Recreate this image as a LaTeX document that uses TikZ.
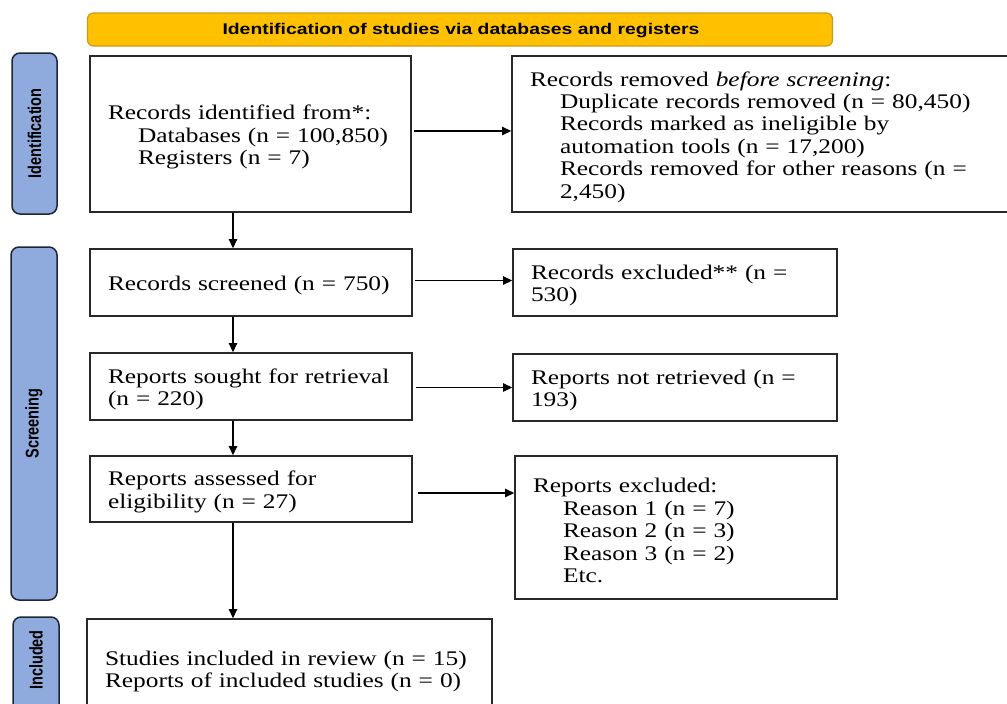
\documentclass[tikz,border=0pt]{standalone}
\usepackage{fontspec}
\setmainfont{Liberation Serif}[FakeStretch=1.22]
\newfontfamily\hdrfont{Liberation Sans}[FakeStretch=1.25]
\newfontfamily\sidefont{Liberation Sans}
\usetikzlibrary{arrows.meta,calc}
\definecolor{hdrfill}{RGB}{255,192,0}
\definecolor{hdrline}{RGB}{205,155,25}
\definecolor{sidefill}{RGB}{143,170,220}
\definecolor{sideline}{RGB}{30,38,52}
\definecolor{boxline}{RGB}{40,40,40}
\newcommand{\ind}{\hspace*{30pt}}
\newcommand{\tp}{\rule{0pt}{20.5pt}}
\begin{document}
\begin{tikzpicture}[x=1pt,y=-1pt,
  flowbox/.style={draw=boxline, line width=1.8pt, fill=white, align=left,
    inner xsep=18pt, inner ysep=0pt, font=\fontsize{20.8pt}{22.4pt}\selectfont},
  sidebox/.style={draw=sideline, line width=1.5pt, fill=sidefill, rounded corners=8pt,
    inner sep=0pt},
  sidelabel/.style={rotate=90, font=\sidefont\bfseries\fontsize{14.5pt}{16pt}\selectfont},
  arr/.style={line width=1.2pt, draw=black, -{Triangle[length=9pt,width=8.5pt]}}
]
\useasboundingbox[fill=white] (0,0) rectangle (1007,704);

% header
\node[draw=hdrline, line width=1.2pt, fill=hdrfill, rounded corners=6pt,
  minimum width=745pt, minimum height=33pt, inner sep=0pt] (hdr) at (460,29.5) {};
\node[font=\hdrfont\bfseries\fontsize{15.5pt}{17pt}\selectfont, inner sep=0pt]
  (hdrt) at (461,31) {Identification of studies via databases and registers};

% side labels
\node[sidebox, minimum width=45pt, minimum height=161pt] (s1) at (34.5,133.5) {};
\node[sidelabel] (s1t) at (s1.center) {\scalebox{1}[1.27]{Identification}};
\node[sidebox, minimum width=46pt, minimum height=353pt] (s2) at (34,423.5) {};
\node[sidelabel] (s2t) at (s2.center) {\scalebox{1}[1.27]{Screening}};
\node[sidebox, minimum width=46pt, minimum height=140pt] (s3) at (36,687) {};
\node[sidelabel] (s3t) at (36,660) {\scalebox{1}[1.27]{Included}};

% boxes
\node[flowbox, text width=285pt, minimum height=156pt] (B1) at (250.5,134)
  {\tp Records identified from*:\\ \ind Databases (n = 100,850)\\ \ind Registers (n = 7)};
\node[flowbox, text width=462pt, minimum height=156pt] (B2) at (761,134)
  {\tp Records removed \textit{before screening}:\\
   \ind Duplicate records removed (n = 80,450)\\
   \ind Records marked as ineligible by\\
   \ind automation tools (n = 17,200)\\
   \ind Records removed for other reasons (n =\\
   \ind 2,450)};
\node[flowbox, text width=286pt, minimum height=67pt] (B3) at (251,282.5)
  {\tp Records screened (n = 750)};
\node[flowbox, text width=288pt, minimum height=67pt] (B4) at (675,282.5)
  {\tp Records excluded** (n =\\ 530)};
\node[flowbox, text width=286pt, minimum height=67pt] (B5) at (251,386.5)
  {\tp Reports sought for retrieval\\ (n = 220)};
\node[flowbox, text width=288pt, minimum height=67pt] (B6) at (675,387.5)
  {\tp Reports not retrieved (n =\\ 193)};
\node[flowbox, text width=286pt, minimum height=66pt] (B7) at (251,489)
  {\tp Reports assessed for\\ eligibility (n = 27)};
\node[flowbox, text width=286pt, minimum height=143pt] (B8) at (676,527.5)
  {\tp Reports excluded:\\ \ind Reason 1 (n = 7)\\ \ind Reason 2 (n = 3)\\ \ind Reason 3 (n = 2)\\ \ind Etc.};
\node[flowbox, text width=369pt, minimum height=99pt] (B9) at (289.5,668.5)
  {\tp Studies included in review (n = 15)\\ Reports of included studies (n = 0)};

% connectors
\coordinate (vx) at (233,0);
\draw[arr] (B1.south -| vx) -- (B3.north -| vx);
\draw[arr] (B3.south -| vx) -- (B5.north -| vx);
\draw[arr] (B5.south -| vx) -- (B7.north -| vx);
\draw[arr] (B7.south -| vx) -- (B9.north -| vx);
\coordinate (h1) at ($(B1.east)+(2,-3)$);
\coordinate (h2) at ($(B3.east)+(2,-2)$);
\coordinate (h3) at ($(B5.east)+(3,1)$);
\coordinate (h4) at ($(B7.east)+(5,4)$);
\draw[arr] (h1) -- (h1 -| B2.west);
\draw[arr] (h2) -- (h2 -| B4.west);
\draw[arr] (h3) -- (h3 -| B6.west);
\draw[arr] (h4) -- (h4 -| B8.west);
\end{tikzpicture}
\end{document}
